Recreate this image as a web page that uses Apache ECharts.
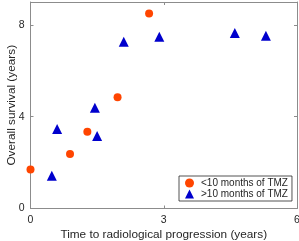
<!DOCTYPE html>
<html><head><meta charset="utf-8">
<script src="https://cdn.jsdelivr.net/npm/echarts@6/dist/echarts.min.js"></script>
<style>html,body{margin:0;padding:0;background:#fff}#c{width:299px;height:241px}</style>
</head><body><div id="c"></div>
<script>
const shortTMZ = [[0, 1.7], [0.89, 2.38], [1.28, 3.35], [1.96, 4.85], [2.67, 8.5]];
const longTMZ = [[0.48, 1.43], [0.6, 3.46], [1.5, 3.16], [1.45, 4.39], [2.1, 7.27], [2.9, 7.49], [4.6, 7.65], [5.3, 7.53]];
const xTicks = [0, 3, 6];
const yTicks = [0, 4, 8];
const seriesNames = ['<10 months of TMZ', '>10 months of TMZ'];

const axisCol = '#8c8c8c';
const font = 'Liberation Sans, Arial, sans-serif';
const chart = echarts.init(document.getElementById('c'), null, {renderer: 'canvas'});
const baseAxis = {
  axisLine: {show: true, onZero: false, lineStyle: {color: axisCol, width: 1}},
  axisTick: {show: true, inside: true, length: 3, lineStyle: {color: axisCol}},
  splitLine: {show: false},
  nameMoveOverlap: false,
  nameTextStyle: {color: '#262626', fontSize: 11.8, fontFamily: font},
};
chart.setOption({
  animation: false,
  grid: {left: 30.5, top: 2, right: 2, bottom: 32.5, outerBoundsMode: 'none', containLabel: false},
  xAxis: [
    Object.assign({}, baseAxis, {type: 'value', min: 0, max: 6, interval: 3,
      name: 'Time to radiological progression (years)', nameLocation: 'middle', nameGap: 20,
      axisLabel: {color: '#262626', fontSize: 10.5, fontFamily: font, margin: 6,
        customValues: xTicks}}),
    Object.assign({}, baseAxis, {type: 'value', min: 0, max: 6, interval: 3, position: 'top',
      axisLabel: {show: false}})
  ],
  yAxis: [
    Object.assign({}, baseAxis, {type: 'value', min: 0, max: 9, interval: 4,
      name: 'Overall survival (years)', nameLocation: 'middle', nameGap: 12.5,
      axisTick: {show: true, inside: true, length: 3, lineStyle: {color: axisCol}, customValues: yTicks},
      axisLabel: {color: '#262626', fontSize: 10.5, fontFamily: font, margin: 6,
        customValues: yTicks}}),
    Object.assign({}, baseAxis, {type: 'value', min: 0, max: 9, interval: 4, position: 'right',
      axisTick: {show: true, inside: true, length: 3, lineStyle: {color: axisCol}, customValues: yTicks},
      axisLabel: {show: false}})
  ],
  legend: {
    orient: 'vertical', left: 179, top: 176, width: 100,
    padding: [2, 4, 2, 6], itemGap: 1, itemWidth: 9, itemHeight: 9,
    borderColor: '#262626', borderWidth: 0.8, backgroundColor: '#fff',
    textStyle: {color: '#262626', fontSize: 10, fontFamily: font, padding: [0, 0, 0, 2]},
    data: [{name: seriesNames[0], icon: 'circle'}, {name: seriesNames[1], icon: 'triangle'}]
  },
  series: [
    {name: seriesNames[0], type: 'scatter', data: shortTMZ, symbol: 'circle', symbolSize: 8,
      itemStyle: {color: '#ff4500', opacity: 1}},
    {name: seriesNames[1], type: 'scatter', data: longTMZ, symbol: 'triangle', symbolSize: 10,
      itemStyle: {color: '#0000cd', opacity: 1}}
  ]
});
</script></body></html>
